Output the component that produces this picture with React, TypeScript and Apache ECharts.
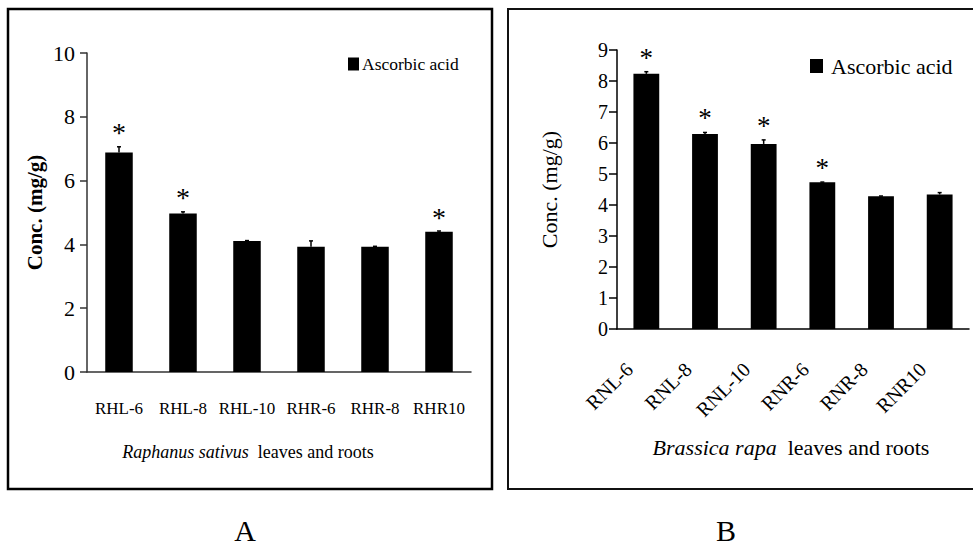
import React, { useEffect, useRef } from "react";
import * as echarts from "echarts";

// Panel A: Raphanus sativus
const categoriesA = ["RHL-6", "RHL-8", "RHL-10", "RHR-6", "RHR-8", "RHR10"];
const valuesA = [6.88, 4.97, 4.11, 3.93, 3.93, 4.4];
const errorsA = [0.18, 0.05, 0.01, 0.18, 0.01, 0.02];
const starsA = [1, 1, 0, 0, 0, 1];
const yMaxA = 10;
const yStepA = 2;

// Panel B: Brassica rapa
const categoriesB = ["RNL-6", "RNL-8", "RNL-10", "RNR-6", "RNR-8", "RNR10"];
const valuesB = [8.23, 6.29, 5.97, 4.73, 4.28, 4.34];
const errorsB = [0.07, 0.05, 0.13, 0.01, 0.01, 0.06];
const starsB = [1, 1, 1, 1, 0, 0];
const yMaxB = 9;
const yStepB = 1;

const seriesName = "Ascorbic acid";
const yAxisTitle = "Conc. (mg/g)";

const FONT = "Liberation Serif";

// Error whisker plus optional significance asterisk above each bar
function errorRenderer(starSize: number) {
  return (params: any, api: any) => {
    const i = api.value(0);
    const v = api.value(1);
    const e = api.value(2);
    const star = api.value(3);
    const base = api.coord([i, v]);
    const top = api.coord([i, v + e]);
    const children: any[] = [
      {
        type: "line",
        shape: { x1: base[0], y1: base[1], x2: top[0], y2: top[1] },
        style: { stroke: "#000", lineWidth: 1.5 },
      },
      {
        type: "line",
        shape: { x1: top[0] - 2, y1: top[1], x2: top[0] + 2, y2: top[1] },
        style: { stroke: "#000", lineWidth: 1.5 },
      },
    ];
    if (star) {
      children.push({
        type: "text",
        style: {
          text: "*",
          x: top[0],
          y: top[1] - 14,
          align: "center",
          verticalAlign: "middle",
          fontFamily: FONT,
          fontSize: starSize,
          fill: "#000",
        },
      });
    }
    return { type: "group", children };
  };
}

function errData(values: number[], errors: number[], stars: number[]) {
  return values.map((v, i) => [i, v, errors[i], stars[i]]);
}

export default function App() {
  const ref = useRef<HTMLDivElement>(null);

  useEffect(() => {
    if (!ref.current) return;
    const chart = echarts.init(ref.current, null, { renderer: "svg" });

    const option: any = {
      animation: false,
      backgroundColor: "#fff",
      textStyle: { fontFamily: FONT, color: "#000" },
      grid: [
        { left: 87, top: 53, width: 384, height: 319 },
        { left: 617, top: 50, width: 352, height: 279 },
      ],
      legend: [
        {
          data: [seriesName],
          left: 348,
          top: 55,
          icon: "rect",
          itemWidth: 11,
          itemHeight: 13,
          itemGap: 0,
          padding: 0,
          textStyle: { fontFamily: FONT, fontSize: 17.5, color: "#000", padding: [0, 0, 0, -2] },
        },
        {
          data: [seriesName],
          left: 810,
          top: 55,
          icon: "rect",
          itemWidth: 13,
          itemHeight: 14,
          itemGap: 0,
          padding: 0,
          textStyle: { fontFamily: FONT, fontSize: 22, color: "#000", padding: [0, 0, 0, 3] },
        },
      ],
      xAxis: [
        {
          gridIndex: 0,
          type: "category",
          data: categoriesA,
          axisLine: { lineStyle: { color: "#333", width: 1.5 } },
          axisTick: { length: 7, lineStyle: { color: "#333", width: 1.5 } },
          axisLabel: { interval: 0, fontFamily: FONT, fontSize: 17, color: "#000", margin: 28 },
        },
        {
          gridIndex: 1,
          type: "category",
          data: categoriesB,
          axisLine: { lineStyle: { color: "#000", width: 1.5 } },
          axisTick: { length: 6, lineStyle: { color: "#000", width: 1.5 } },
          axisLabel: {
            interval: 0,
            fontFamily: FONT,
            fontSize: 20,
            color: "#000",
            margin: 20,
            rotate: 45,
            padding: [0, 24, 0, 0],
          },
        },
      ],
      yAxis: [
        {
          gridIndex: 0,
          type: "value",
          min: 0,
          max: yMaxA,
          interval: yStepA,
          splitLine: { show: false },
          axisLine: { show: true, lineStyle: { color: "#333", width: 1.5 } },
          axisTick: { show: true, length: 7, lineStyle: { color: "#333", width: 1.5 } },
          axisLabel: { fontFamily: FONT, fontSize: 22, color: "#000", margin: 12 },
          name: yAxisTitle,
          nameLocation: "middle",
          nameGap: 42,
          nameTextStyle: { fontFamily: FONT, fontSize: 21, fontWeight: "bold", color: "#000" },
        },
        {
          gridIndex: 1,
          type: "value",
          min: 0,
          max: yMaxB,
          interval: yStepB,
          splitLine: { show: false },
          axisLine: { show: true, lineStyle: { color: "#000", width: 1.5 } },
          axisTick: { show: true, length: 8, lineStyle: { color: "#000", width: 1.5 } },
          axisLabel: { fontFamily: FONT, fontSize: 20, color: "#000", margin: 9 },
          name: yAxisTitle,
          nameLocation: "middle",
          nameGap: 57,
          nameTextStyle: { fontFamily: FONT, fontSize: 22, color: "#000" },
        },
      ],
      series: [
        {
          name: seriesName,
          type: "bar",
          xAxisIndex: 0,
          yAxisIndex: 0,
          data: valuesA,
          barWidth: "43%",
          itemStyle: { color: "#000" },
        },
        {
          name: "errA",
          type: "custom",
          xAxisIndex: 0,
          yAxisIndex: 0,
          data: errData(valuesA, errorsA, starsA),
          encode: { x: 0, y: 1 },
          renderItem: errorRenderer(28),
          z: 3,
        },
        {
          name: seriesName,
          type: "bar",
          xAxisIndex: 1,
          yAxisIndex: 1,
          data: valuesB,
          barWidth: "44%",
          itemStyle: { color: "#000" },
        },
        {
          name: "errB",
          type: "custom",
          xAxisIndex: 1,
          yAxisIndex: 1,
          data: errData(valuesB, errorsB, starsB),
          encode: { x: 0, y: 1 },
          renderItem: errorRenderer(27),
          z: 3,
        },
      ],
      graphic: [
        {
          type: "rect",
          shape: { x: 8, y: 9, width: 484, height: 480 },
          style: { fill: "none", stroke: "#000", lineWidth: 2.5 },
          silent: true,
        },
        {
          type: "rect",
          shape: { x: 508, y: 9, width: 470, height: 480 },
          style: { fill: "none", stroke: "#111", lineWidth: 2 },
          silent: true,
        },
        {
          type: "text",
          x: 248,
          y: 452,
          style: {
            text: "{i|Raphanus sativus}  leaves and roots",
            align: "center",
            verticalAlign: "middle",
            fontFamily: FONT,
            fontSize: 18,
            fill: "#000",
            rich: { i: { fontStyle: "italic", fontFamily: FONT, fontSize: 18 } },
          },
        },
        {
          type: "text",
          x: 791,
          y: 447,
          style: {
            text: "{i|Brassica rapa}  leaves and roots",
            align: "center",
            verticalAlign: "middle",
            fontFamily: FONT,
            fontSize: 22,
            fill: "#000",
            rich: { i: { fontStyle: "italic", fontFamily: FONT, fontSize: 22 } },
          },
        },
        {
          type: "text",
          x: 245,
          y: 530,
          style: { text: "A", align: "center", verticalAlign: "middle", fontFamily: FONT, fontSize: 30, fill: "#000" },
        },
        {
          type: "text",
          x: 726,
          y: 530,
          style: { text: "B", align: "center", verticalAlign: "middle", fontFamily: FONT, fontSize: 30, fill: "#000" },
        },
      ],
    };

    chart.setOption(option);
    return () => chart.dispose();
  }, []);

  return (
    <div
      ref={ref}
      style={{ position: "absolute", left: 0, top: 0, width: 973, height: 546 }}
    />
  );
}
